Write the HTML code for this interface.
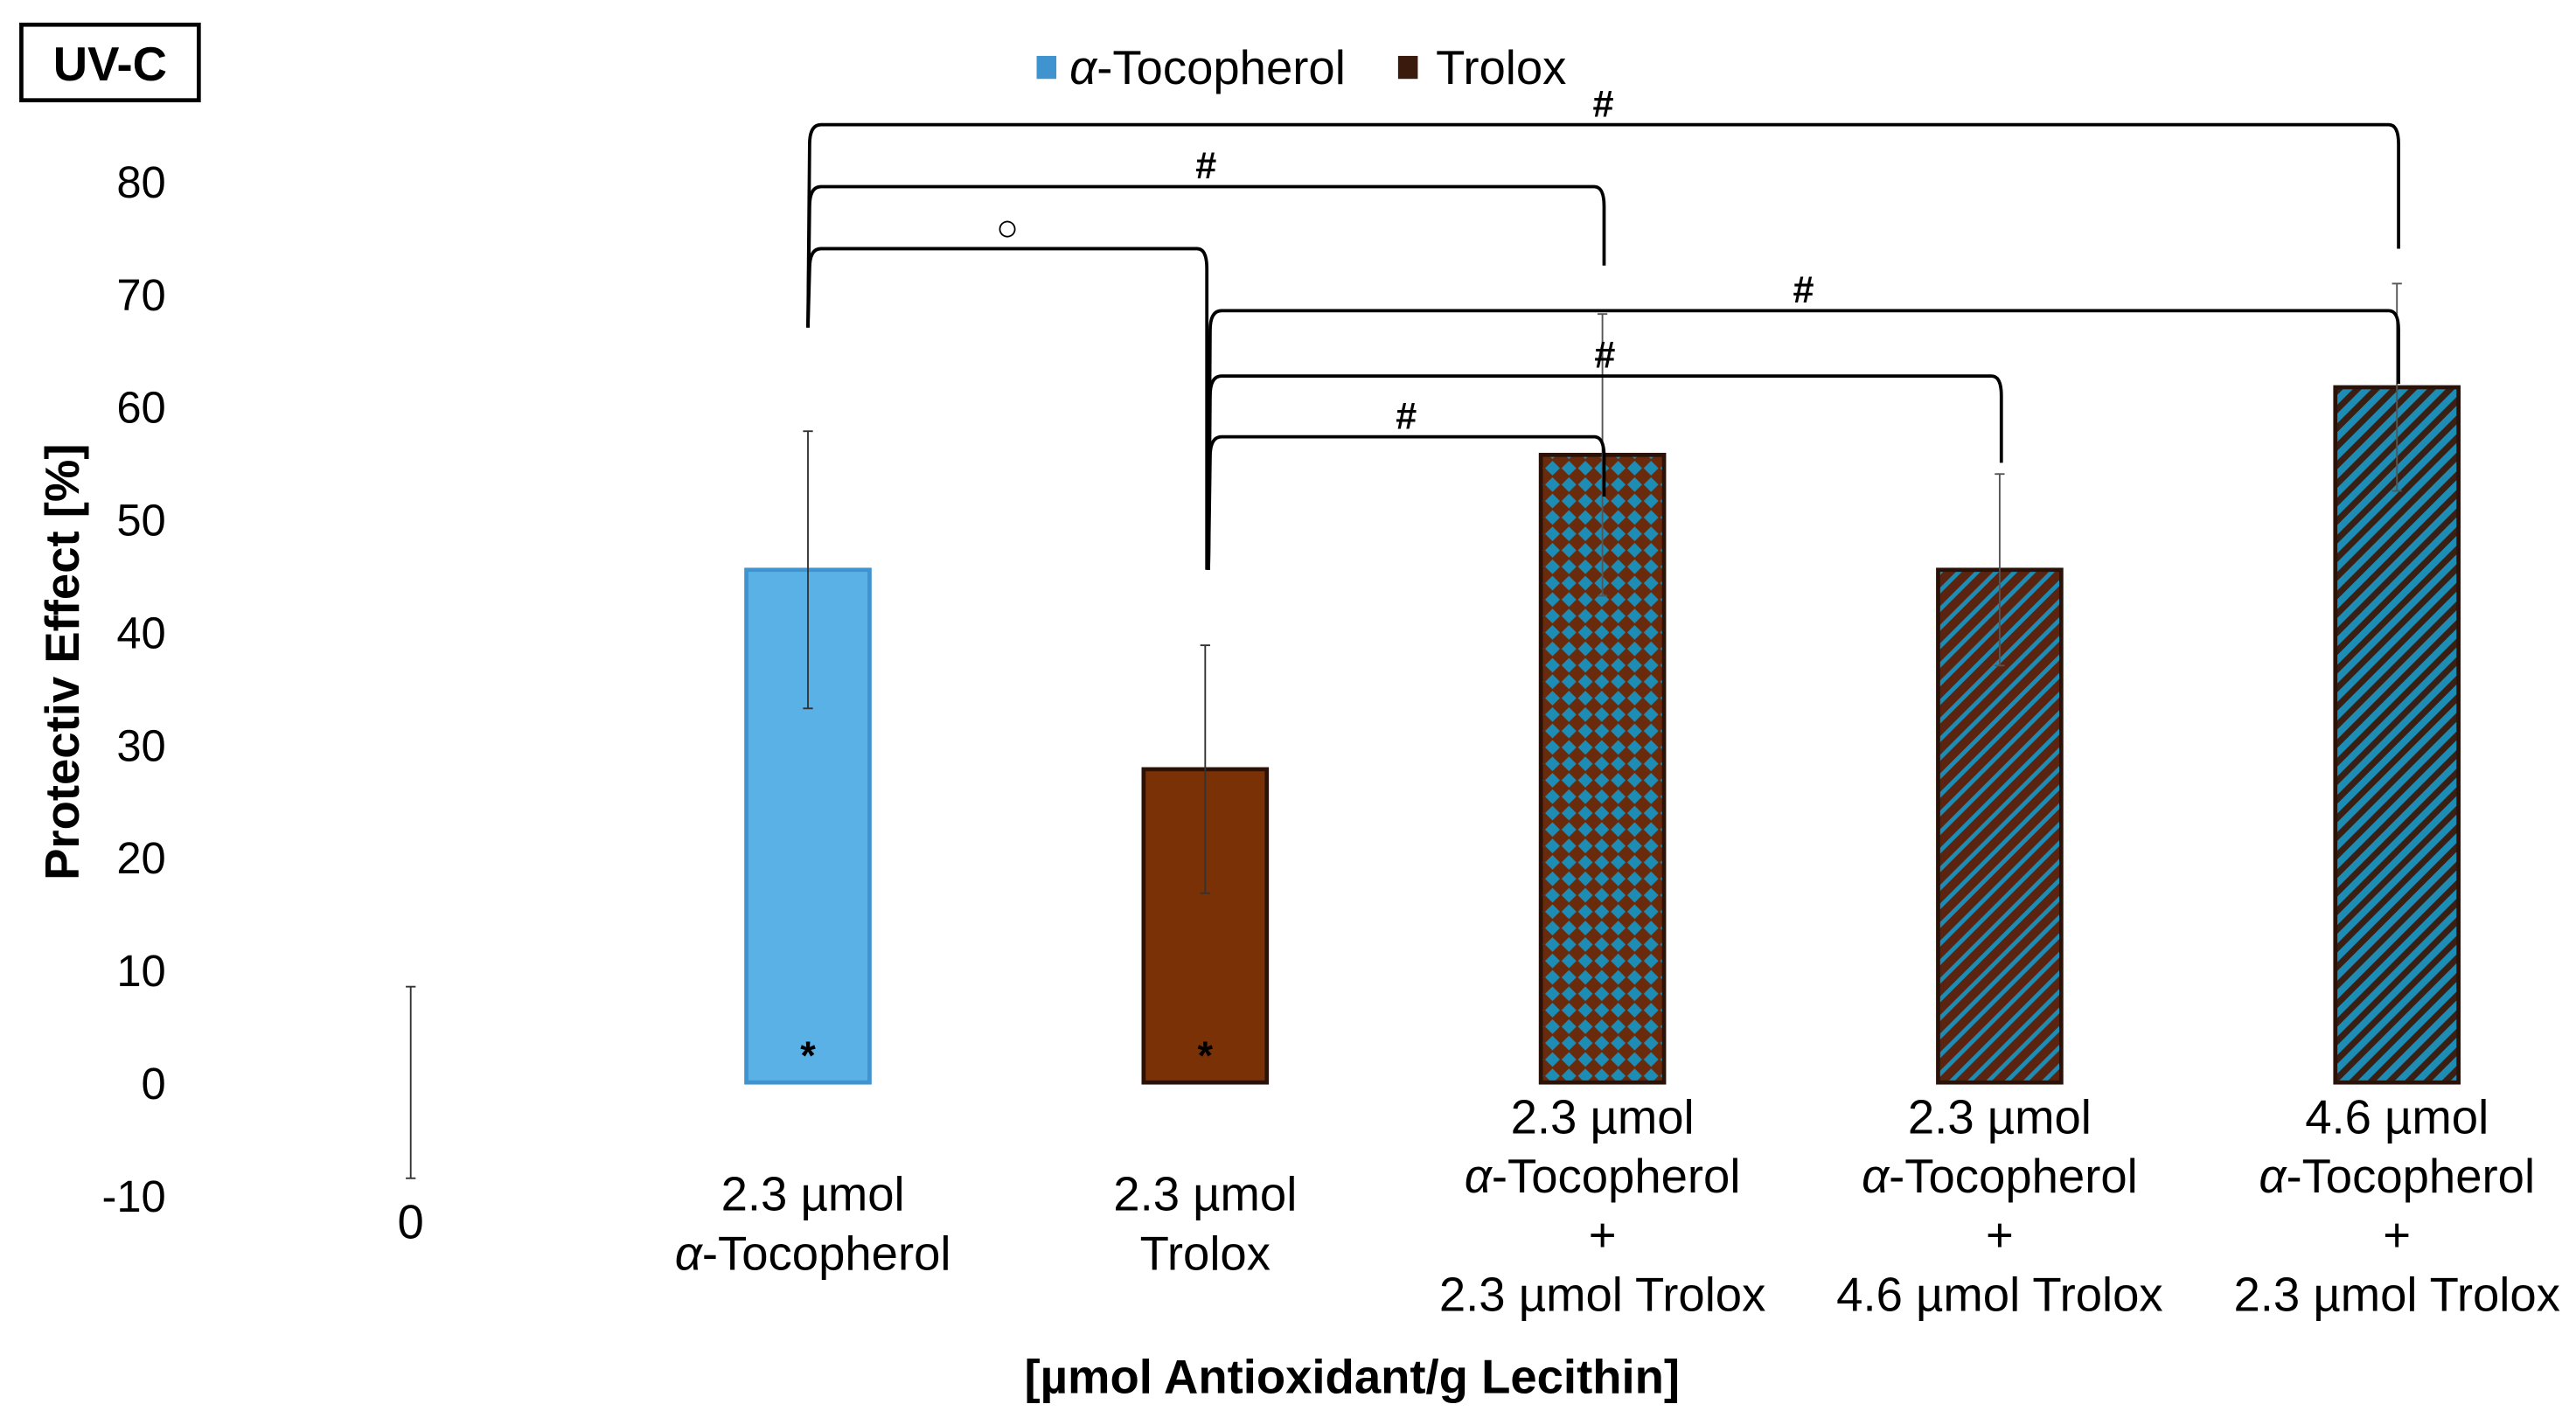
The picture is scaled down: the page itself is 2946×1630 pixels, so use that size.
<!DOCTYPE html>
<html><head><meta charset="utf-8"><style>
html,body{margin:0;padding:0;background:#fff}
svg{display:block}
text{font-family:"Liberation Sans",sans-serif;fill:#000}
</style></head><body>
<svg id="chart" xmlns="http://www.w3.org/2000/svg" width="2946" height="1630" viewBox="0 0 1568 867.5">
<defs>
<pattern id="checker" patternUnits="userSpaceOnUse" width="10" height="10">
<rect width="10" height="10" fill="#6a2a0c"/>
<polygon points="5,0.5 9.5,5 5,9.5 0.5,5" fill="#1d8db5"/>
</pattern>
<pattern id="stripeThin" patternUnits="userSpaceOnUse" width="8" height="8" patternTransform="rotate(45)">
<rect width="8" height="8" fill="#5a2410"/>
<rect width="2.6" height="8" fill="#1d8db5"/>
</pattern>
<pattern id="stripeThick" patternUnits="userSpaceOnUse" width="8" height="8" patternTransform="rotate(45)">
<rect width="8" height="8" fill="#3a2014"/>
<rect width="4.2" height="8" fill="#1d8db5"/>
</pattern>
</defs>
<g>
<rect x="13" y="15" width="108" height="46" fill="#fff" stroke="#000" stroke-width="2.5"/>
<text x="67" y="49" text-anchor="middle" font-weight="bold" font-size="29">UV-C</text>
</g>
<g>
<g><rect x="631" y="34" width="12" height="14" fill="#3f93cf"/><text x="651" y="51" font-size="29"><tspan font-style="italic">α</tspan>-Tocopherol</text></g>
<g><rect x="851" y="34" width="12" height="14" fill="#3a1a0c"/><text x="874" y="51" font-size="29">Trolox</text></g>
</g>
<g id="yaxis"></g>
<text transform="translate(48,403) rotate(-90)" text-anchor="middle" font-weight="bold" font-size="29">Protectiv Effect [%]</text>
<g id="bars"></g>
<g id="brackets"></g>
<g id="xlabels"></g>
<text x="823" y="848" text-anchor="middle" font-weight="bold" font-size="29">[µmol Antioxidant/g Lecithin]</text>
</svg>
<script>
const categories = ["0","2.3 µmol α-Tocopherol","2.3 µmol Trolox","2.3 µmol α-Tocopherol + 2.3 µmol Trolox","2.3 µmol α-Tocopherol + 4.6 µmol Trolox","4.6 µmol α-Tocopherol + 2.3 µmol Trolox"];
const values = [0, 45.5, 27.8, 55.7, 45.5, 61.7];
const errors = [8.5, 12.3, 11, 12.5, 8.5, 9.2];
const yTicks = [-10, 0, 10, 20, 30, 40, 50, 60, 70, 80];
const fills = ["none","#5ab1e5","#7a3106","url(#checker)","url(#stripeThin)","url(#stripeThick)"];
const labelLines = [["0"],["2.3 µmol","α-Tocopherol"],["2.3 µmol","Trolox"],["2.3 µmol","α-Tocopherol","+","2.3 µmol Trolox"],["2.3 µmol","α-Tocopherol","+","4.6 µmol Trolox"],["4.6 µmol","α-Tocopherol","+","2.3 µmol Trolox"]];
const brackets = [[1,5,85,"#",67,74],[1,3,79.5,"#",67,72.5],[1,2,74,"○",67,45.5],[2,5,68.5,"#",45.5,62],[2,4,62.7,"#",45.5,55],[2,3,57.3,"#",45.5,52]];

const NS="http://www.w3.org/2000/svg";
const y0=659, pxPerUnit=6.86;
const y = v => y0 - v*pxPerUnit;
const x = i => 250 + i*241.8;
const barW = 75;
function el(tag, attrs, parent){const e=document.createElementNS(NS,tag);for(const k in attrs)e.setAttribute(k,attrs[k]);parent.appendChild(e);return e;}

const ya=document.getElementById('yaxis');
yTicks.forEach(t=>{
  const tx=el('text',{x:101,y:y(t)+10,'text-anchor':'end','font-size':27},ya);
  
  
  tx.textContent=t;
});

const bg=document.getElementById('bars');
values.forEach((v,i)=>{
  const cx=x(i);
  if(i>0){
    const r=el('rect',{x:cx-barW/2,y:y(v),width:barW,height:y(0)-y(v),fill:fills[i],stroke:i===1?'#3f93cf':'#2a1208','stroke-width':2.5},bg);
    
    
  }
  const e=errors[i];
  const g=el('g',{stroke:i>=3?'#555':'#333','stroke-width':1},bg);
  
  
  el('line',{x1:cx,x2:cx,y1:y(v+e),y2:y(v-e)},g);
  el('line',{x1:cx-3,x2:cx+3,y1:y(v+e),y2:y(v+e)},g);
  el('line',{x1:cx-3,x2:cx+3,y1:y(v-e),y2:y(v-e)},g);
  if(i===1||i===2){
    const s=el('text',{x:cx,y:y(0)-8,'text-anchor':'middle','font-size':24,'font-weight':'bold'},bg);
    
    
    s.textContent='*';
  }
});

const bk=document.getElementById('brackets');
brackets.forEach(b=>{
  const [a,c,lvl,sym,sv,ev]=b;
  const xa=x(a)+(a===2?2:0), xc=x(c)+1, yl=y(lvl);
  const p=el('path',{d:`M${xa},${y(sv)} L${xa+1},${yl+12} Q${xa+1},${yl} ${xa+8},${yl} L${xc-6},${yl} Q${xc},${yl} ${xc},${yl+12} L${xc},${y(ev)}`,fill:'none',stroke:'#000','stroke-width':2},bk);
  
  
  const t=el('text',{x:(xa+xc)/2,y:yl-5,'text-anchor':'middle','font-size':23,'font-weight':sym==='#'?'bold':'normal'},bk);
  
  
  t.textContent=sym;
});

const xl=document.getElementById('xlabels');
labelLines.forEach((lines,i)=>{
  const startY = lines.length===4 ? 690 : (i===0 ? 754 : 737);
  lines.forEach((ln,j)=>{
    const t=el('text',{x:x(i)+(i===1?3:0),y:startY+j*36,'text-anchor':'middle','font-size':29},xl);
    
    
    if(ln.startsWith('α')){
      const a=el('tspan',{'font-style':'italic'},t);a.textContent='α';
      const r=el('tspan',{},t);r.textContent=ln.slice(1);
    } else t.textContent=ln;
  });
});
</script>
</body></html>
